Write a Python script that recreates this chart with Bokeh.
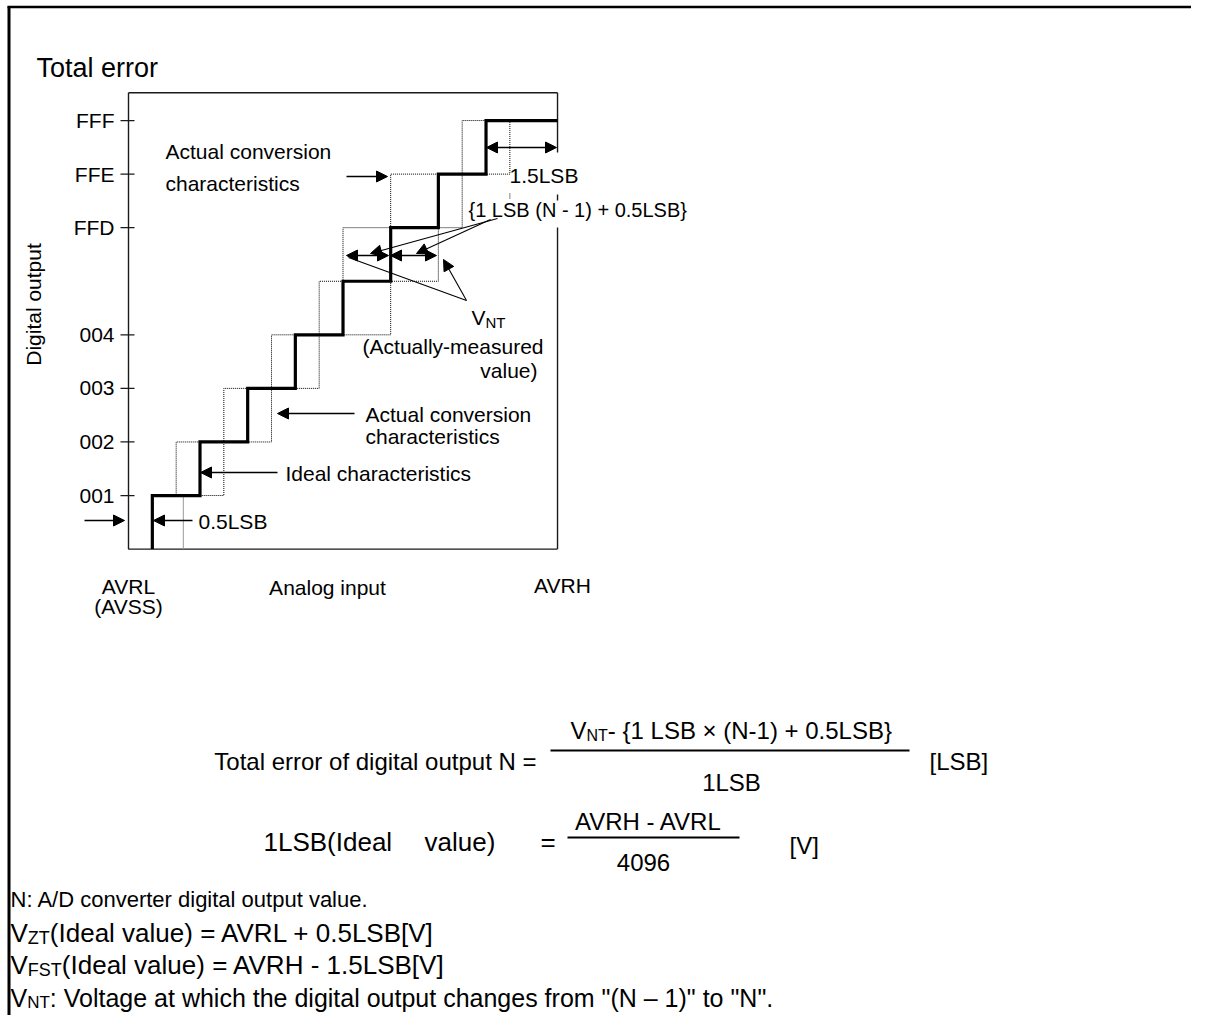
import math
from bokeh.plotting import figure
from bokeh.models import Range1d, Arrow, NormalHead
from bokeh.core.properties import value
from bokeh.embed import file_html
from bokeh.resources import INLINE

# ---------------- data ----------------
tick_levels = [1, 2, 3, 4, 6, 7, 8]
tick_labels = ["001", "002", "003", "004", "FFD", "FFE", "FFF"]
ideal_transitions = [0.5, 1.5, 2.5, 3.5, 4.5, 5.5, 6.5, 7.5]   # code 0->1 ... ->8 (LSB)
early_transitions = [1.0, 2.0, 3.0, 4.0, 4.5, 5.5, 7.0]        # actual (left) code 1->2 ... ->8
late_transitions = [2.0, 3.0, 4.0, 5.5, 6.5, 7.0, 8.0]         # actual (right) code 1->2 ... ->8
full_scale = 9.0        # AVRL .. AVRH in LSB (sketch)
box_top = 8.52          # top of the plotting box in code steps
gray_mark = 1.15        # thin gray reference line (LSB)

# ---------------- layout helpers ----------------
W, H = 1191, 1015
PX_LSB = 47.67
PX_LEV = 53.57
OX, OY = 128.0, 548.6
FONT = "Liberation Sans"


def dx(px):
    return (px - OX) / PX_LSB


def dy(py):
    return (OY - py) / PX_LEV


p = figure(width=W, height=H, x_range=Range1d(dx(0), dx(W)), y_range=Range1d(dy(H), dy(0)),
           toolbar_location=None, output_backend="svg", x_axis_type=None, y_axis_type=None,
           min_border=0)
p.grid.visible = False
p.outline_line_color = None
p.background_fill_color = "white"
p.border_fill_color = "white"

# page frame (top + left)
p.line([dx(8.5), dx(8.5)], [dy(6), dy(H)], line_color="black", line_width=3)
p.line([dx(7), dx(W)], [dy(6.5), dy(6.5)], line_color="black", line_width=2.5)


def staircase(transitions, start_level, x_start, x_end):
    xs, ys = [x_start], [start_level]
    lev = start_level
    for t in transitions:
        xs += [t, t]
        ys += [lev, lev + 1]
        lev += 1
    xs.append(x_end)
    ys.append(lev)
    return xs, ys


# box
edge = "#1a1a1a"
p.line([0, 0, full_scale], [box_top, 0, 0], line_color=edge, line_width=1.4)
p.line([0, full_scale], [box_top, box_top], line_color=edge, line_width=1.4)
p.multi_line([[full_scale, full_scale], [full_scale, full_scale], [full_scale, full_scale]],
             [[box_top, dy(152)], [dy(194), dy(200)], [dy(227), 0]], line_color=edge, line_width=1.4)

# ticks
p.multi_line([[dx(120), dx(134)] for _ in tick_levels], [[lv, lv] for lv in tick_levels],
             line_color=edge, line_width=1.3)
p.text(x=[dx(114)] * len(tick_levels), y=tick_levels, text=tick_labels, text_font=value(FONT),
       text_font_size="21px", text_align="right", text_baseline="middle", text_color="black")

# gray reference line
p.line([gray_mark, gray_mark], [0, 1], line_color="#9a9a9a", line_width=1)

# actual characteristics (dotted)
ex, ey = staircase(early_transitions, 1, 0.5, 7.5)
lx, ly = staircase(late_transitions, 1, 0.5, 8.0)
dot = "#000000"
p.line(ex, ey, line_color=dot, line_width=1, line_dash="1 1")
p.line(lx, ly, line_color=dot, line_width=1, line_dash="1 1")
p.line([8.0, 8.0], [dy(193), dy(199)], line_color=dot, line_width=1, line_dash="1 1")

# ideal characteristics (thick)
ix, iy = staircase(ideal_transitions, 0, ideal_transitions[0], full_scale)
p.line(ix, iy, line_color="black", line_width=3.2, line_join="miter")


# ---------------- arrows ----------------
def head():
    return NormalHead(size=11, fill_color="black", line_color="black", line_width=1)


def arrow(x0, y0, x1, y1, start=False, end=True, lw=1.3):
    p.add_layout(Arrow(x_start=dx(x0), y_start=dy(y0), x_end=dx(x1), y_end=dy(y1),
                       line_color="black", line_width=lw,
                       start=head() if start else None, end=head() if end else None))


arrow(346, 176, 387, 176)
arrow(486, 147, 556, 147, start=True)
arrow(346, 255, 388, 255, start=True)
arrow(390, 255, 436, 255, start=True)
arrow(497, 218, 370, 253, lw=1.1)
arrow(490, 219, 416, 253, lw=1.1)
arrow(466, 300, 348, 257, end=False, lw=1.1)
arrow(466, 300, 443, 259, lw=1.1)
arrow(354, 413, 277, 413)
arrow(277, 472, 200, 472)
arrow(192, 520, 153, 520)
arrow(84, 520, 124, 520)


# ---------------- texts ----------------
def txt(items, size, align="left", angle=0.0):
    p.text(x=[dx(i[1]) for i in items], y=[dy(i[2]) for i in items], text=[i[0] for i in items],
           text_font=value(FONT), text_font_size=f"{size}px", text_align=align,
           text_baseline="middle", angle=angle, text_color="black")


EM = {"V": 0.667, "N": 0.722, "T": 0.611, "Z": 0.611, "F": 0.611, "S": 0.667}


def wid(s, size):
    return sum(EM.get(c, 0.556) for c in s) * size


def sub_text(main, sub, rest, x, yc, size, sub_size):
    txt([(main, x, yc)], size)
    x2 = x + wid(main, size)
    txt([(sub, x2, yc + 5)], sub_size)
    x3 = x2 + wid(sub, sub_size)
    txt([(rest, x3, yc)], size)


txt([("Total error", 36, 67)], 27)
txt([("Digital output", 33, 304)], 21, align="center", angle=math.pi / 2)

txt([("Actual conversion", 165, 150.5), ("characteristics", 165, 182.5),
     ("1.5LSB", 509, 175), ("Actual conversion", 365, 413.5), ("characteristics", 365, 435.5),
     ("Ideal characteristics", 285, 472.5), ("0.5LSB", 198, 520.5)], 21)
txt([("{1 LSB (N - 1) + 0.5LSB}", 468, 209)], 20)
sub_text("V", "NT", "", 471, 317, 21, 15)
txt([("(Actually-measured", 543, 345.5), ("value)", 537, 369.5)], 21, align="right")
txt([("AVRL", 128, 585.5), ("(AVSS)", 128, 606), ("Analog input", 327, 586.5), ("AVRH", 562, 585)], 21,
    align="center")

# formula 1
txt([("Total error of digital output N =", 536, 760.5)], 24, align="right")
sub_text("V", "NT", "- {1 LSB \u00d7 (N-1) + 0.5LSB}", 570, 729.5, 24, 16)
p.line([dx(550), dx(909)], [dy(750), dy(750)], line_color="black", line_width=2)
txt([("1LSB", 731, 782)], 24, align="center")
txt([("[LSB]", 929, 761)], 24)

# formula 2
txt([("1LSB(Ideal", 263, 841.5), ("value)", 424, 841.5), ("=", 540, 841.5)], 26)
txt([("AVRH - AVRL", 648, 820.5), ("4096", 643, 861.5)], 24, align="center")
p.line([dx(567), dx(739)], [dy(837), dy(837)], line_color="black", line_width=2)
txt([("[V]", 789, 845)], 24)

# notes
txt([("N: A/D converter digital output value.", 10, 899)], 22)
sub_text("V", "ZT", "(Ideal value) = AVRL + 0.5LSB[V]", 10, 932, 26, 18)
sub_text("V", "FST", "(Ideal value) = AVRH - 1.5LSB[V]", 10, 964, 26, 18)
sub_text("V", "NT", ": Voltage at which the digital output changes from \"(N \u2013 1)\" to \"N\".", 10, 997, 25, 17)

open("out.html", "w").write(file_html(p, INLINE))
